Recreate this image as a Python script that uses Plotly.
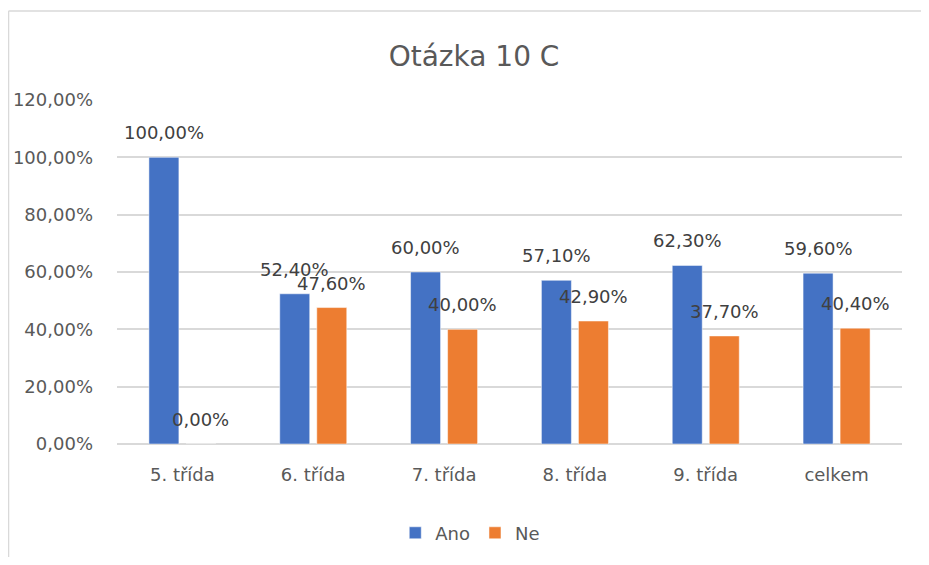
import plotly.graph_objects as go

categories = ["5. třída", "6. třída", "7. třída", "8. třída", "9. třída", "celkem"]
ano = [100.0, 52.4, 60.0, 57.1, 62.3, 59.6]
ne = [0.0, 47.6, 40.0, 42.9, 37.7, 40.4]
y_ticks = [0, 20, 40, 60, 80, 100, 120]

FONT = "DejaVu Sans"
GREY = "#595959"
GRID = "#d9d9d9"


def pct(v):
    return f"{v:.2f}".replace(".", ",") + "%"


series = [("Ano", ano, "#4472c4", -18.5), ("Ne", ne, "#ed7d31", 18.5)]

fig = go.Figure()
labels = []
for name, vals, color, shift in series:
    fig.add_trace(go.Bar(
        x=categories, y=vals, name=name,
        marker=dict(color=color, line=dict(color="white", width=0.5)),
        hovertemplate="%{x}<br>%{y:.1f}%<extra>" + name + "</extra>",
    ))
    # data labels sit a bit above the bar top, like in Excel
    for cat, v in zip(categories, vals):
        labels.append(dict(
            x=cat, y=v, xref="x", yref="y", text=pct(v), showarrow=False,
            xshift=shift, yshift=12, yanchor="bottom",
            font=dict(family=FONT, size=18, color="#404040"),
        ))

# chart-area frame: only the left and top edges are visible in the crop
frame = [
    dict(type="line", xref="paper", yref="paper", x0=-0.1382, x1=-0.1382, y0=-0.8, y1=1.2587,
         line=dict(color=GRID, width=1.5), layer="below"),
    dict(type="line", xref="paper", yref="paper", x0=-0.1382, x1=1.3, y0=1.2587, y1=1.2587,
         line=dict(color=GRID, width=1.5), layer="below"),
]

fig.update_layout(
    width=921, height=549,
    margin=dict(l=109, r=27, t=92, b=113, autoexpand=False),
    paper_bgcolor="white",
    plot_bgcolor="white",
    barmode="group",
    bargap=0.434,
    bargroupgap=0.19,
    title=dict(text="Otázka 10 C", x=0.506, xanchor="center", y=1 - 48 / 549, yanchor="middle",
               font=dict(family=FONT, size=28, color=GREY)),
    font=dict(family=FONT, color=GREY),
    legend=dict(orientation="h", x=0.45, xanchor="center", y=-0.259, yanchor="middle",
                font=dict(family=FONT, size=18, color=GREY), itemwidth=30),
    showlegend=True,
    annotations=labels,
    xaxis=dict(showgrid=False, showline=False, ticks="", ticklabelstandoff=18, automargin=False,
               tickfont=dict(family=FONT, size=18, color=GREY)),
    yaxis=dict(range=[0, 120], tickvals=y_ticks, ticktext=[pct(v) for v in y_ticks],
               gridcolor=GRID, gridwidth=1.5, zeroline=True, zerolinecolor=GRID, zerolinewidth=1.5,
               showline=False, ticks="", ticklabelstandoff=23, automargin=False,
               tickfont=dict(family=FONT, size=18, color=GREY)),
    shapes=frame,
)

fig.write_html("out.html")
